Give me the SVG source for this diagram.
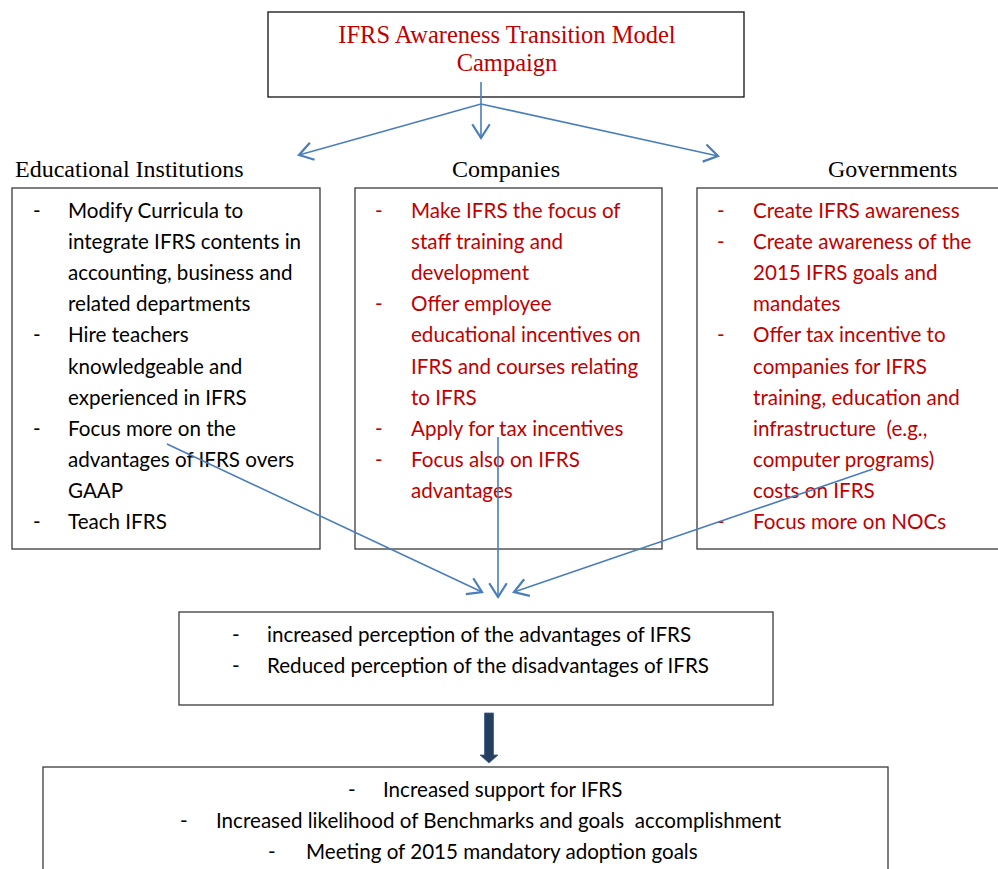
<svg xmlns="http://www.w3.org/2000/svg" width="998" height="869" viewBox="0 0 998 869">
<style>
.box{fill:#fff;stroke:#3a3a3a;stroke-width:1.3}
.ser{font-family:"Liberation Serif","Times New Roman",serif;font-size:24px;fill:#000}
.ttl{font-family:"Liberation Serif","Times New Roman",serif;font-size:24.5px;fill:#c00000;text-anchor:middle}
.t{font-family:Lato,"Open Sans",sans-serif;font-size:20.6px;fill:#000}
.r{fill:#c00000}
.con{fill:none;stroke:#4a7ebb;stroke-width:1.6}
</style>
<defs>
<marker id="ah" markerWidth="20" markerHeight="20" viewBox="-12 -8 14 16" refX="0" refY="0" orient="auto" markerUnits="userSpaceOnUse">
<path d="M-11,-7 L0,0 L-11,7" fill="none" stroke="#4a7ebb" stroke-width="1.8"/>
</marker>
</defs>
<rect width="998" height="869" fill="#fff"/>

<g id="title">
<rect class="box" x="268" y="12" width="476" height="85" style="stroke:#111"/>
<text class="ttl" x="507" y="43">IFRS Awareness Transition Model</text>
<text class="ttl" x="507" y="71">Campaign</text>
</g>

<g id="h-edu"><text class="ser" x="15" y="177">Educational Institutions</text></g>
<g id="h-comp"><text class="ser" x="506" y="177" text-anchor="middle">Companies</text></g>
<g id="h-gov"><text class="ser" x="828" y="177">Governments</text></g>

<g id="edu">
<rect class="box" x="12" y="188" width="308" height="361"/>
<g class="t">
<text x="33" y="218">-</text><text x="68" y="218">Modify Curricula to</text>
<text x="68" y="249">integrate IFRS contents in</text>
<text x="68" y="280">accounting, business and</text>
<text x="68" y="311">related departments</text>
<text x="33" y="342">-</text><text x="68" y="342">Hire teachers</text>
<text x="68" y="374">knowledgeable and</text>
<text x="68" y="405">experienced in IFRS</text>
<text x="33" y="436">-</text><text x="68" y="436">Focus more on the</text>
<text x="68" y="467">advantages of IFRS overs</text>
<text x="68" y="498">GAAP</text>
<text x="33" y="529">-</text><text x="68" y="529">Teach IFRS</text>
</g>
</g>

<g id="comp">
<rect class="box" x="355" y="188" width="307" height="361"/>
<g class="t r">
<text x="375" y="218">-</text><text x="411" y="218">Make IFRS the focus of</text>
<text x="411" y="249">staff training and</text>
<text x="411" y="280">development</text>
<text x="375" y="311">-</text><text x="411" y="311">Offer employee</text>
<text x="411" y="342">educational incentives on</text>
<text x="411" y="374">IFRS and courses relating</text>
<text x="411" y="405">to IFRS</text>
<text x="375" y="436">-</text><text x="411" y="436">Apply for tax incentives</text>
<text x="375" y="467">-</text><text x="411" y="467">Focus also on IFRS</text>
<text x="411" y="498">advantages</text>
</g>
</g>

<g id="gov">
<rect class="box" x="697" y="188" width="310" height="361"/>
<g class="t r">
<text x="717" y="218">-</text><text x="753" y="218">Create IFRS awareness</text>
<text x="717" y="249">-</text><text x="753" y="249">Create awareness of the</text>
<text x="753" y="280">2015 IFRS goals and</text>
<text x="753" y="311">mandates</text>
<text x="717" y="342">-</text><text x="753" y="342">Offer tax incentive to</text>
<text x="753" y="374">companies for IFRS</text>
<text x="753" y="405">training, education and</text>
<text x="753" y="436" xml:space="preserve">infrastructure  (e.g.,</text>
<text x="753" y="467">computer programs)</text>
<text x="753" y="498">costs on IFRS</text>
<text x="717" y="529">-</text><text x="753" y="529">Focus more on NOCs</text>
</g>
</g>

<g id="effects">
<rect class="box" x="179" y="612" width="594" height="93"/>
<g class="t">
<text x="232" y="642">-</text><text x="267" y="642">increased perception of the advantages of IFRS</text>
<text x="232" y="673">-</text><text x="267" y="673">Reduced perception of the disadvantages of IFRS</text>
</g>
</g>

<g id="outcomes">
<rect class="box" x="43" y="767" width="845" height="110"/>
<g class="t">
<text x="348" y="797">-</text><text x="383" y="797">Increased support for IFRS</text>
<text x="180" y="828">-</text><text x="216" y="828" xml:space="preserve">Increased likelihood of Benchmarks and goals  accomplishment</text>
<text x="268" y="859">-</text><text x="306" y="859">Meeting of 2015 mandatory adoption goals</text>
</g>
</g>

<g id="connectors">
<path class="con" d="M481,82 L481,104"/>
<path class="con" d="M481,104 L481,138" marker-end="url(#ah)"/>
<path class="con" d="M481,104 L299,155" marker-end="url(#ah)"/>
<path class="con" d="M481,104 L718,156" marker-end="url(#ah)"/>
<path class="con" d="M167,444 L482,592" marker-end="url(#ah)"/>
<path class="con" d="M498,437 L498,597" marker-end="url(#ah)"/>
<path class="con" d="M873,469 L514,592" marker-end="url(#ah)"/>
<path d="M484.5,713 L493.5,713 L493.5,755 L498,755 L489,763 L480,755 L484.5,755 Z" fill="#243f60" stroke="#3b5f8a" stroke-width="0.8"/>
</g>
</svg>
